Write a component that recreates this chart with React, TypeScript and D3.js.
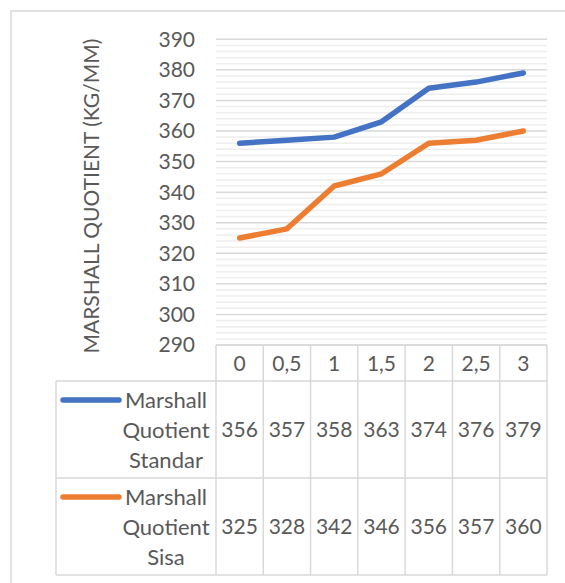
import { range, scaleBand, scaleLinear, line } from 'd3';

const categories = ['0', '0,5', '1', '1,5', '2', '2,5', '3'];
const standar = [356, 357, 358, 363, 374, 376, 379];
const sisa = [325, 328, 342, 346, 356, 357, 360];
const yTicks = [290, 300, 310, 320, 330, 340, 350, 360, 370, 380, 390];

const series = [
  { name: ['Marshall', 'Quotient', 'Standar'], values: standar, color: '#4472C4' },
  { name: ['Marshall', 'Quotient', 'Sisa'], values: sisa, color: '#ED7D31' },
];

const width = 565;
const height = 583;
const plot = { left: 216, right: 547, top: 39.3, bottom: 345 };
const table = { left: 56, catBottom: 381, rowHeight: 97 };
const font = 'Lato, "Noto Sans", sans-serif';
const textColor = '#595959';
const border = '#d9d9d9';

export default function App() {
  const x = scaleBand<string>().domain(categories).range([plot.left, plot.right]);
  const y = scaleLinear().domain([290, 390]).range([plot.bottom, plot.top]);
  const minor = range(290, 391, 2).filter(v => v % 10 !== 0);

  const rowTop = (i: number) => table.catBottom + i * table.rowHeight;
  const tableBottom = rowTop(series.length);
  const cx = (i: number) => (x(categories[i]) ?? 0) + x.bandwidth() / 2;

  return (
    <svg width={width} height={height} style={{ position: 'absolute', left: 0, top: 0, background: '#fff' }}>
      <rect x={11} y={11} width={width + 20} height={height + 20} fill="#fff" stroke={border} strokeWidth={1.5} />

      {minor.map(v => (
        <line key={`m${v}`} x1={plot.left} x2={plot.right} y1={y(v)} y2={y(v)} stroke="#eeeeee" strokeWidth={1.5} />
      ))}
      {yTicks.map(v => (
        <g key={v}>
          <line x1={plot.left} x2={plot.right} y1={y(v)} y2={y(v)} stroke={border} strokeWidth={1.5} />
          <text x={195} y={y(v)} dy="0.35em" textAnchor="end" fontFamily={font} fontSize={21} fill={textColor}>{v}</text>
        </g>
      ))}

      <text
        transform={`translate(92, ${(plot.top + plot.bottom) / 2 + 4}) rotate(-90)`}
        textAnchor="middle"
        dy="0.35em"
        fontFamily={font}
        fontSize={21}
        fill={textColor}
      >
        MARSHALL QUOTIENT (KG/MM)
      </text>

      {series.map(s => {
        const path = line<number>()
          .x((_, i) => cx(i))
          .y(v => y(v))(s.values);
        return path ? (
          <path key={s.color} d={path} fill="none" stroke={s.color} strokeWidth={5.5} strokeLinecap="round" strokeLinejoin="round" />
        ) : null;
      })}

      {/* data table */}
      <g fill="none" stroke={border} strokeWidth={1.5}>
        <line x1={plot.left} x2={plot.right} y1={plot.bottom} y2={plot.bottom} />
        {series.map((_, i) => (
          <line key={i} x1={table.left} x2={plot.right} y1={rowTop(i)} y2={rowTop(i)} />
        ))}
        <line x1={table.left} x2={plot.right} y1={tableBottom} y2={tableBottom} />
        <line x1={table.left} x2={table.left} y1={table.catBottom} y2={tableBottom} />
        {categories.map(c => (
          <line key={c} x1={x(c)} x2={x(c)} y1={plot.bottom} y2={tableBottom} />
        ))}
        <line x1={plot.right} x2={plot.right} y1={plot.bottom} y2={tableBottom} />
      </g>

      {categories.map((c, i) => (
        <text key={c} x={cx(i)} y={(plot.bottom + table.catBottom) / 2 + 1} dy="0.35em" textAnchor="middle" fontFamily={font} fontSize={21} fill={textColor}>
          {c}
        </text>
      ))}

      {series.map((s, si) => {
        const top = rowTop(si);
        const mid = top + table.rowHeight / 2;
        return (
          <g key={s.color}>
            <line x1={63} x2={119} y1={top + 19} y2={top + 19} stroke={s.color} strokeWidth={5.5} strokeLinecap="round" />
            {s.name.map((n, li) => (
              <text key={n} x={166} y={top + 19 + li * 30} dy="0.35em" textAnchor="middle" fontFamily={font} fontSize={22} fill={textColor}>
                {n}
              </text>
            ))}
            {s.values.map((v, i) => (
              <text key={i} x={cx(i)} y={mid} dy="0.35em" textAnchor="middle" fontFamily={font} fontSize={21} fill={textColor}>
                {v}
              </text>
            ))}
          </g>
        );
      })}
    </svg>
  );
}
